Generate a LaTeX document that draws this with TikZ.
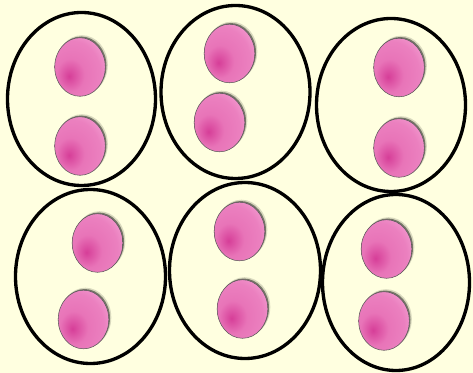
\documentclass[tikz,border=0pt]{standalone}
\definecolor{bg}{RGB}{255,255,224}
\definecolor{pdark}{RGB}{214,62,152}
\definecolor{pmid}{RGB}{232,116,184}
\definecolor{plight}{RGB}{240,146,202}
\pgfdeclareradialshading{rbcshade}{\pgfpoint{-11bp}{-8bp}}{color(0bp)=(pdark); color(14bp)=(pmid); color(28bp)=(pmid!60!plight); color(34bp)=(plight); color(38bp)=(pmid); color(100bp)=(pmid)}
\newcommand{\rbcball}[2]{%
  \fill[black,opacity=0.15] (#1+2,#2-2) ellipse [x radius=25.8,y radius=29.8];
  \fill[black,opacity=0.45] (#1+1.2,#2-1.2) ellipse [x radius=25.3,y radius=29.3];
  \shade[shading=rbcshade, draw=black!65, line width=0.4pt] (#1,#2) ellipse [x radius=25.3, y radius=29.3];
}
\tikzset{cellring/.style={draw=black, line width=2.5pt}}
\begin{document}
\begin{tikzpicture}[x=0.75pt,y=-0.75pt]
\fill[bg] (0,0) rectangle (473,373);
\useasboundingbox (0,0) rectangle (473,373);
% cells
\draw[cellring] (81.5,99) ellipse [x radius=74, y radius=86.5];
\draw[cellring] (235.5,92) ellipse [x radius=74.5, y radius=86.5];
\draw[cellring] (391,105) ellipse [x radius=74.5, y radius=86.5];
\draw[cellring] (90.5,276.5) ellipse [x radius=75, y radius=87];
\draw[cellring] (245,270.5) ellipse [x radius=75.5, y radius=88];
\draw[cellring] (396,282.5) ellipse [x radius=73.5, y radius=88];
% balls
\rbcball{80}{67}
\rbcball{80}{146}
\rbcball{229.5}{53.5}
\rbcball{219.5}{122.5}
\rbcball{399}{67.5}
\rbcball{399}{148}
\rbcball{97.5}{243}
\rbcball{83.5}{319.5}
\rbcball{239.5}{231.5}
\rbcball{242.5}{309}
\rbcball{386.5}{249}
\rbcball{384}{321}
\end{tikzpicture}
\end{document}
